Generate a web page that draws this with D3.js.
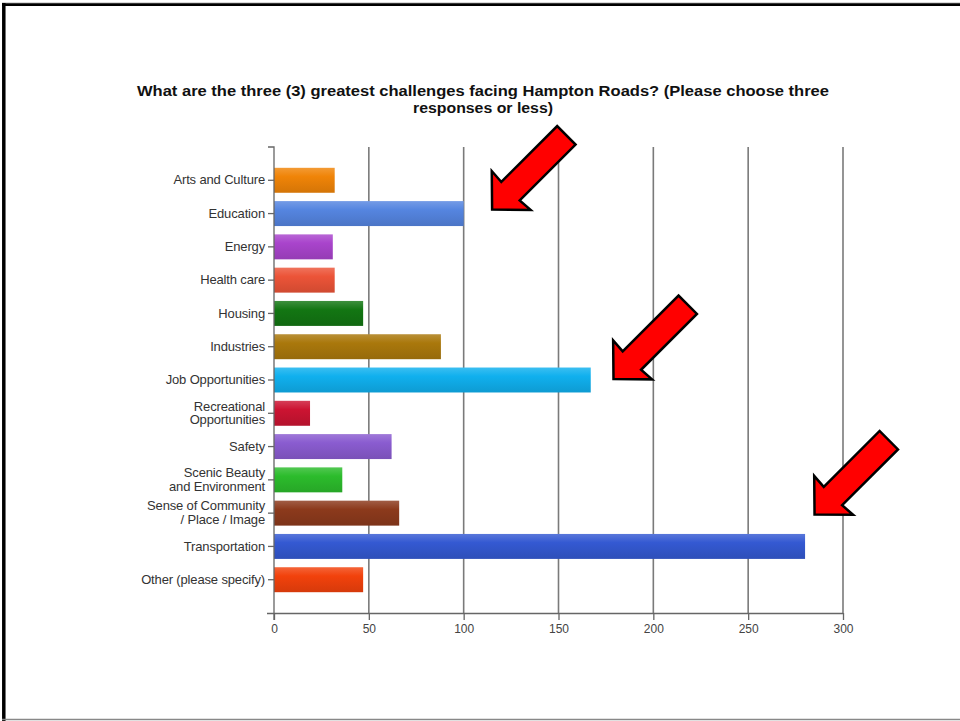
<!DOCTYPE html>
<html><head><meta charset="utf-8">
<script src="https://cdn.jsdelivr.net/npm/d3@7"></script>
<style>
html,body{margin:0;padding:0;background:#fff;}
svg{display:block;}
</style></head>
<body>
<script>
// ---- data ----
const titleLines = ["What are the three (3) greatest challenges facing Hampton Roads? (Please choose three", "responses or less)"];
const categories = ["Arts and Culture","Education","Energy","Health care","Housing","Industries","Job Opportunities","Recreational\nOpportunities","Safety","Scenic Beauty\nand Environment","Sense of Community\n/ Place / Image","Transportation","Other (please specify)"];
const values = [32, 100, 31, 32, 47, 88, 167, 19, 62, 36, 66, 280, 47];
const colors = ["#f08408","#5585e0","#a944cc","#ec5438","#137613","#aa780c","#10b0ee","#cc1432","#8a5cd0","#2cbc2c","#8c3a1c","#3459d2","#f2420c"];
const xTicks = [0, 50, 100, 150, 200, 250, 300];
// annotation arrows: category they sit beside and value where the tip points
const arrowCats = ["Education", "Job Opportunities", "Transportation"];
const arrowTipValues = [115, 179, 285];
const arrowTipDy = [-4, -1, -32];

const W = 960, H = 721;
const FONT = "Liberation Sans, Arial, sans-serif";
const svg = d3.select("body").append("svg").attr("width", W).attr("height", H);

// frame
svg.append("rect").attr("x",0).attr("y",0).attr("width",W).attr("height",H).attr("fill","#fff");
svg.append("line").attr("x1",2).attr("x2",W).attr("y1",4.5).attr("y2",4.5).attr("stroke","#000").attr("stroke-width",3);
svg.append("line").attr("x1",2).attr("x2",W).attr("y1",3.2).attr("y2",3.2).attr("stroke","#666").attr("stroke-width",0.8);
svg.append("line").attr("x1",3.8).attr("x2",3.8).attr("y1",3).attr("y2",H).attr("stroke","#000").attr("stroke-width",3.5);
svg.append("line").attr("x1",2).attr("x2",W).attr("y1",719.5).attr("y2",719.5).attr("stroke","#888").attr("stroke-width",1.5);

// title
const titleWidths = [692, 140];
const title = svg.append("text").attr("font-family",FONT)
  .attr("font-weight","bold").attr("font-size",14).attr("fill","#111").attr("text-anchor","middle");
titleLines.forEach((t,i)=>title.append("tspan").attr("x",483).attr("y",96 + i*17)
  .attr("textLength",titleWidths[i]).attr("lengthAdjust","spacingAndGlyphs").text(t));

// scales
const x0 = 274, x1 = 843, yTop = 147, yBot = 613;
const x = d3.scaleLinear().domain([0,300]).range([x0,x1]);
const y = d3.scaleBand().domain(categories).range([yTop,yBot]).paddingInner(0.25).paddingOuter(0.625);

// gradients
const defs = svg.append("defs");
colors.forEach((c,i)=>{
  const g = defs.append("linearGradient").attr("id","g"+i).attr("x1",0).attr("x2",0).attr("y1",0).attr("y2",1);
  const base = d3.color(c);
  g.append("stop").attr("offset","0%").attr("stop-color", d3.interpolateRgb(c,"#fff")(0.18));
  g.append("stop").attr("offset","35%").attr("stop-color", c);
  g.append("stop").attr("offset","100%").attr("stop-color", base.darker(0.35));
});

// gridlines
svg.append("g").selectAll("line").data(xTicks.filter(d=>d>0)).join("line")
  .attr("x1",d=>x(d)).attr("x2",d=>x(d)).attr("y1",yTop).attr("y2",yBot)
  .attr("stroke","#7a7a7a").attr("stroke-width",1.6);

// bars
svg.append("g").selectAll("rect").data(categories).join("rect")
  .attr("x",x(0)).attr("y",d=>y(d)).attr("height",y.bandwidth())
  .attr("width",(d,i)=>x(values[i])-x(0))
  .attr("fill",(d,i)=>`url(#g${i})`);

// x axis
const xAxis = svg.append("g").attr("transform",`translate(0,${yBot})`)
  .call(d3.axisBottom(x).tickValues(xTicks).tickSize(7).tickSizeOuter(0).tickPadding(4));
xAxis.select(".domain").attr("d",`M${x0-7},0.5H${x1}`).attr("stroke","#666").attr("stroke-width",1.3);
xAxis.selectAll(".tick line").attr("stroke","#666").attr("stroke-width",1.3);
xAxis.selectAll("text").attr("font-family",FONT).attr("font-size",12).attr("fill","#444");

// y axis
const yAxis = svg.append("g").attr("transform",`translate(${x0},0)`)
  .call(d3.axisLeft(y).tickSize(6).tickSizeOuter(6).tickPadding(3));
yAxis.select(".domain").attr("stroke","#666").attr("stroke-width",1.3).attr("d",`M-6,${yTop}H0V${yBot+7}`);
yAxis.selectAll(".tick line").attr("stroke","#666").attr("stroke-width",1.3);
yAxis.selectAll(".tick text").each(function(d){
  const t = d3.select(this);
  const lines = d.split("\n");
  t.text(null).attr("font-family",FONT).attr("font-size",13).attr("fill","#333")
    .attr("letter-spacing","-0.15");
  lines.forEach((ln,k)=>{
    t.append("tspan").attr("x",-9).attr("dy", k===0 ? (lines.length===1 ? "0.32em" : (0.32 - 0.53)+"em") : "1.06em").text(ln);
  });
});

// arrows
const arrowShape = [[0,0],[27,-27.5],[26,-13],[105,-13],[105,13],[26,13],[27,27.5]];
const ang = -45 * Math.PI/180;
arrowCats.forEach((c,i)=>{
  const tx = x(arrowTipValues[i]), ty = y(c) + y.bandwidth()/2 + arrowTipDy[i];
  const pts = arrowShape.map(([u,v])=>[tx + u*Math.cos(ang) - v*Math.sin(ang), ty + u*Math.sin(ang) + v*Math.cos(ang)]);
  svg.append("path").attr("d", d3.line()(pts) + "Z")
    .attr("fill","#ff0000").attr("stroke","#000").attr("stroke-width",2.5).attr("stroke-linejoin","miter");
});
</script>
</body></html>
